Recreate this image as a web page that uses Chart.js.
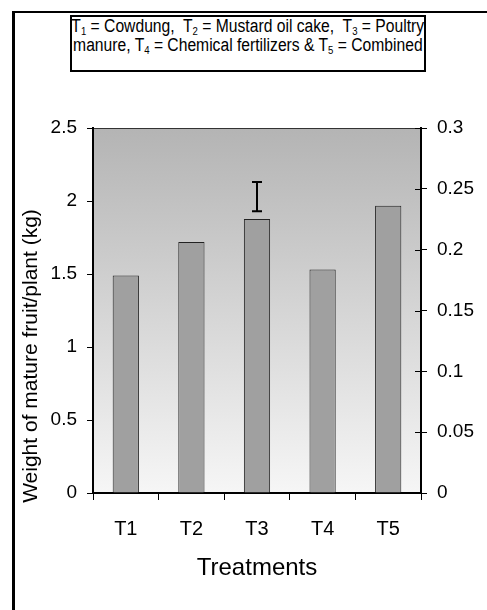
<!DOCTYPE html>
<html><head><meta charset="utf-8">
<script src="https://cdn.jsdelivr.net/npm/chart.js@4.4.0/dist/chart.umd.min.js"></script>
<style>
html,body{margin:0;padding:0;background:#fff;}
#wrap{position:relative;width:487px;height:610px;overflow:hidden;background:#fff;}
canvas{position:absolute;left:0;top:0;}
#legend{position:absolute;left:70px;top:15px;width:352px;height:53px;border:2px solid #000;background:#fff;
 font-family:"Liberation Sans",Arial,sans-serif;font-size:18px;line-height:19px;color:#000;}
#legend .ln{display:flex;justify-content:center;width:352px;white-space:pre;}
#legend .ln span{display:inline-block;transform:scaleX(0.87);transform-origin:center;}
#legend sub{font-size:11px;vertical-align:-3px;line-height:0;}
</style></head>
<body>
<div id="wrap">
<canvas id="c" width="487" height="610"></canvas>
<div id="legend"><div class="ln"><span>T<sub>1</sub> = Cowdung,  T<sub>2</sub> = Mustard oil cake,  T<sub>3</sub> = Poultry</span></div><div class="ln"><span>manure, T<sub>4</sub> = Chemical fertilizers &amp; T<sub>5</sub> = Combined</span></div></div>
</div>
<script>
const categories = ['T1', 'T2', 'T3', 'T4', 'T5'];
const fruitWeight = [1.49, 1.72, 1.877, 1.53, 1.968];
const errorLow = [null, null, 1.93, null, null];
const errorHigh = [null, null, 2.13, null, null];
const leftTicks = [0, 0.5, 1, 1.5, 2, 2.5];
const rightTicks = [0, 0.05, 0.1, 0.15, 0.2, 0.25, 0.3];
const xTitle = 'Treatments';
const yTitle = 'Weight of mature fruit/plant (kg)';

const SANS = '"Liberation Sans", Arial, sans-serif';

const decor = {
  id: 'decor',
  beforeDraw(chart) {
    const {ctx, chartArea: a} = chart;
    ctx.save();
    ctx.fillStyle = '#fff';
    ctx.fillRect(0, 0, chart.width, chart.height);
    const g = ctx.createLinearGradient(0, a.top, 0, a.bottom);
    g.addColorStop(0, '#b4b4b4');
    g.addColorStop(1, '#f6f6f6');
    ctx.fillStyle = g;
    ctx.fillRect(a.left, a.top, a.right - a.left, a.bottom - a.top);
    // outer frame
    ctx.strokeStyle = '#000';
    ctx.lineWidth = 2;
    ctx.beginPath(); ctx.moveTo(12, 12); ctx.lineTo(chart.width, 12); ctx.stroke();
    ctx.lineWidth = 3;
    ctx.beginPath(); ctx.moveTo(13.5, 11); ctx.lineTo(13.5, chart.height); ctx.stroke();
    // top border of plot
    ctx.lineWidth = 1;
    ctx.strokeStyle = '#333';
    ctx.beginPath(); ctx.moveTo(a.left, a.top + 0.5); ctx.lineTo(a.right, a.top + 0.5); ctx.stroke();
    ctx.restore();
  },
  afterDraw(chart) {
    const {ctx, chartArea: a} = chart;
    const x = chart.scales.x, y = chart.scales.y, y2 = chart.scales.y2;
    ctx.save();
    // error bars
    ctx.strokeStyle = '#000';
    ctx.lineWidth = 2;
    for (let i = 0; i < categories.length; i++) {
      if (errorLow[i] == null) continue;
      const cx = x.getPixelForValue(i);
      const yl = y.getPixelForValue(errorLow[i]);
      const yh = y.getPixelForValue(errorHigh[i]);
      ctx.beginPath();
      ctx.moveTo(cx, yl); ctx.lineTo(cx, yh);
      ctx.moveTo(cx - 5, yl); ctx.lineTo(cx + 5, yl);
      ctx.moveTo(cx - 5, yh); ctx.lineTo(cx + 5, yh);
      ctx.stroke();
    }
    // inner half of right axis cross ticks
    ctx.lineWidth = 1;
    rightTicks.forEach(v => {
      const py = Math.round(y2.getPixelForValue(v)) + 0.5;
      ctx.beginPath(); ctx.moveTo(a.right - 6, py); ctx.lineTo(a.right, py); ctx.stroke();
    });
    // y title
    ctx.fillStyle = '#000';
    ctx.font = '21px ' + SANS;
    ctx.textAlign = 'center';
    ctx.textBaseline = 'middle';
    ctx.translate(31, 356);
    ctx.rotate(-Math.PI / 2);
    ctx.fillText(yTitle, 0, 0);
    ctx.restore();
  }
};

new Chart(document.getElementById('c'), {
  type: 'bar',
  data: {
    labels: categories,
    datasets: [{
      data: fruitWeight,
      yAxisID: 'y',
      backgroundColor: '#a0a0a0',
      borderColor: '#222',
      borderWidth: 1,
      barPercentage: 0.4,
      categoryPercentage: 1.0
    }]
  },
  options: {
    responsive: false,
    animation: false,
    devicePixelRatio: 1,
    layout: {padding: {top: 128, left: 0, right: 0, bottom: 0}},
    plugins: {legend: {display: false}, tooltip: {enabled: false}, title: {display: false}},
    scales: {
      x: {
        z: 1,
        offset: true,
        grid: {offset: true, drawOnChartArea: false, drawTicks: true, tickLength: 7, tickColor: '#000', tickWidth: 1},
        border: {display: true, color: '#000', width: 2},
        ticks: {color: '#000', font: {family: SANS, size: 20}, padding: 17},
        title: {display: true, text: xTitle, color: '#000', font: {family: SANS, size: 24}, padding: {top: 27, bottom: 27}},
        afterFit(s) { s.height = 117; }
      },
      y: {
        position: 'left',
        min: 0, max: 2.5,
        afterBuildTicks(s) { s.ticks = leftTicks.map(v => ({value: v})); },
        grid: {drawOnChartArea: false, drawTicks: true, tickLength: 6, tickColor: '#000', tickWidth: 1},
        border: {display: true, color: '#000', width: 2},
        ticks: {color: '#000', font: {family: SANS, size: 19}, padding: 10, callback: v => String(v)},
        afterFit(s) { s.width = 93; }
      },
      y2: {
        position: 'right',
        min: 0, max: 0.3,
        afterBuildTicks(s) { s.ticks = rightTicks.map(v => ({value: v})); },
        grid: {drawOnChartArea: false, drawTicks: true, tickLength: 6, tickColor: '#000', tickWidth: 1},
        border: {display: true, color: '#000', width: 2},
        ticks: {color: '#000', font: {family: SANS, size: 19}, padding: 10, callback: v => String(v)},
        afterFit(s) { s.width = 66; }
      }
    }
  },
  plugins: [decor]
});
</script>
</body></html>
